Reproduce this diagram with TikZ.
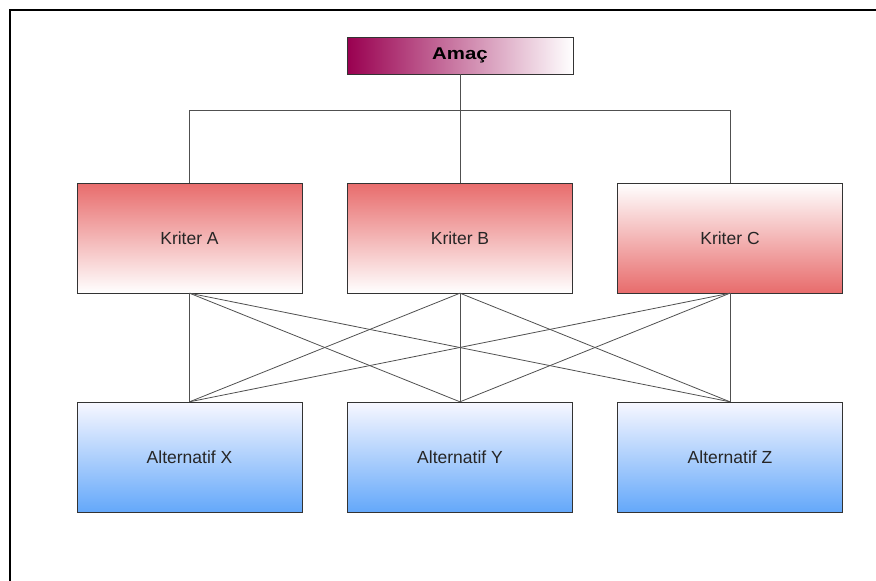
\documentclass[tikz,border=0pt]{standalone}
\usepackage{fontspec}
\setmainfont{Liberation Sans}
\newfontfamily\genis[FakeStretch=1.2]{Liberation Sans}
\begin{document}
\begin{tikzpicture}[x=1pt,y=-1pt]
        %colores
        \definecolor{amacc}{RGB}{153,0,80}
        \definecolor{kred}{RGB}{232,108,108}
        \definecolor{ablue}{RGB}{100,168,250}
        \definecolor{lineg}{RGB}{80,80,80}
        \tikzset{
            kutu/.style={draw=black!80,minimum width=225pt,minimum height=110pt,inner sep=0pt,font=\fontsize{17.5}{19}\selectfont,text=black!85},
            kriter/.style={kutu,top color=kred,bottom color=white},
            alt/.style={kutu,top color=blue!3!white,bottom color=ablue},
            bag/.style={draw=lineg,line width=0.8pt}
        }
        \useasboundingbox (0,0) rectangle (876,581);
        % marco
        \draw[line width=1.2pt] (10,581) -- (10,10) -- (876,10);

        % Amac
        \node[draw=black!80,left color=amacc,right color=white,minimum width=226pt,minimum height=37pt,inner sep=0pt,font=\genis\fontsize{17}{19}\selectfont\bfseries] (amac) at (460,55.5) {Amaç};

        % Kriterler
        \node[kriter] (ka) at (189.5,238) {Kriter A};
        \node[kriter] (kb) at (460,238) {Kriter B};
        \node[kutu,top color=white,bottom color=kred] (kc) at (730,238) {Kriter C};

        % Alternatifler
        \node[alt] (ax) at (189.5,457) {Alternatif X};
        \node[alt] (ay) at (460,457) {Alternatif Y};
        \node[alt] (az) at (730,457) {Alternatif Z};

        % baglantilar
        \coordinate (bar) at (460,110);
        \draw[bag] (amac.south) -- (bar);
        \foreach \k in {ka,kb,kc}
            \draw[bag] (bar) -| (\k.north);
        \foreach \k in {ka,kb,kc}
            \foreach \a in {ax,ay,az}
                \draw[bag] (\k.south) -- (\a.north);
    \end{tikzpicture}
\end{document}
